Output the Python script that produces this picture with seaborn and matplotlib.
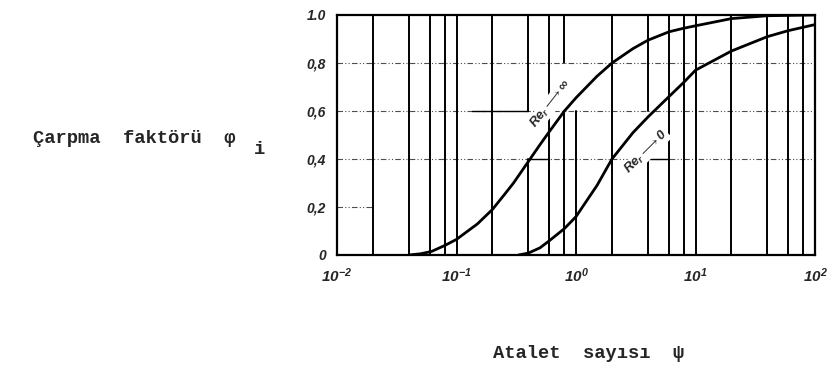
import numpy as np
import pandas as pd
import seaborn as sns
import matplotlib
matplotlib.use("Agg")
import matplotlib.pyplot as plt
from matplotlib.ticker import NullLocator

# ---- data ----
psi_inf = [0.04, 0.05, 0.062, 0.08, 0.1, 0.15, 0.2, 0.25, 0.3, 0.4, 0.5, 0.6, 0.8, 1.0,
           1.5, 2.0, 3.0, 4.0, 6.0, 8.0, 10.0, 20.0, 40.0, 100.0]
phi_inf = [0.0, 0.005, 0.015, 0.04, 0.065, 0.13, 0.19, 0.25, 0.30, 0.39, 0.46, 0.515, 0.60, 0.655,
           0.745, 0.80, 0.86, 0.895, 0.93, 0.945, 0.955, 0.985, 0.997, 1.0]
psi_zero = [0.33, 0.4, 0.5, 0.6, 0.8, 1.0, 1.5, 2.0, 3.0, 4.0, 6.0, 8.0, 10.0, 20.0, 40.0, 60.0, 100.0]
phi_zero = [0.0, 0.008, 0.03, 0.06, 0.11, 0.16, 0.29, 0.40, 0.51, 0.575, 0.66, 0.72, 0.77, 0.85, 0.91, 0.935, 0.96]

x_ticks = [1e-2, 1e-1, 1e0, 1e1, 1e2]
x_ticklabels = [r'$10^{-2}$', r'$10^{-1}$', r'$10^{0}$', r'$10^{1}$', r'$10^{2}$']
y_ticks = [0, 0.2, 0.4, 0.6, 0.8, 1.0]
y_ticklabels = ['0', '0,2', '0,4', '0,6', '0,8', '1.0']

sns.set_style("white")
plt.rcParams['font.family'] = ['DejaVu Sans']
plt.rcParams['mathtext.fontset'] = 'custom'
plt.rcParams['mathtext.rm'] = 'Liberation Sans:italic:bold'
plt.rcParams['mathtext.it'] = 'Liberation Sans:italic:bold'
plt.rcParams['mathtext.bf'] = 'Liberation Sans:italic:bold'

fig = plt.figure(figsize=(8.29, 3.69), dpi=100)
ax = fig.add_axes([337 / 829, 1 - 255 / 369, (815 - 337) / 829, 240 / 369])
ax.set_xscale('log')
ax.set_xlim(1e-2, 1e2)
ax.set_ylim(0, 1.0)

# ---- grid (scanned log paper look) ----
vlw = 1.4
full_v = []
for d in [1e-2, 1e-1, 1e0, 1e1]:
    for m in [2, 4, 6, 8]:
        full_v.append(m * d)
full_v += [1e-1, 1e1]
partial = {0.4: [(0.6, 1.0), (0.0, 0.4)], 0.6: [(0.0, 0.4)], 0.8: [(0.8, 1.0), (0.0, 0.6)],
           4.0: [(0.6, 1.0), (0.0, 0.4)]}
for v in full_v:
    if v in partial:
        continue
    ax.axvline(v, color='black', lw=vlw, zorder=1)
for v, segs in partial.items():
    for a, b in segs:
        ax.plot([v, v], [a, b], color='black', lw=vlw, zorder=1)
ax.axvline(1.0, ymin=0, ymax=0.6, color='black', lw=vlw, zorder=1)

dd = (0, (5, 2, 1, 2, 1, 2))
for y in [0.4, 0.6, 0.8]:
    ax.axhline(y, color='0.3', lw=0.8, ls=dd, zorder=0.5)
ax.plot([1e-2, 2e-2], [0.2, 0.2], color='0.3', lw=0.8, ls=dd, zorder=0.5)
# solid pieces of the scan
ax.plot([0.135, 0.4], [0.6, 0.6], color='black', lw=1.0, zorder=1)
ax.plot([0.4, 0.6], [0.4, 0.4], color='black', lw=1.0, zorder=1)
ax.plot([4.0, 6.0], [0.4, 0.4], color='black', lw=1.0, zorder=1)

# ---- curves ----
sns.lineplot(x=psi_inf, y=phi_inf, color='black', lw=2.0, ax=ax, zorder=3)
sns.lineplot(x=psi_zero, y=phi_zero, color='black', lw=2.0, ax=ax, zorder=3)

ax.text(0.62, 0.63, r'$Re_r \longrightarrow \infty$', rotation=52, fontsize=9.5,
        ha='center', va='center', rotation_mode='anchor', zorder=4,
        bbox=dict(facecolor='white', edgecolor='none', pad=0.3))
ax.text(3.9, 0.43, r'$Re_r \longrightarrow 0$', rotation=45, fontsize=9.5,
        ha='center', va='center', rotation_mode='anchor', zorder=4,
        bbox=dict(facecolor='white', edgecolor='none', pad=0.3))

# ---- axes ----
for s in ax.spines.values():
    s.set_visible(True)
    s.set_color('black')
    s.set_linewidth(1.6)
ax.set_xticks(x_ticks)
ax.set_xticklabels(x_ticklabels, fontsize=11)
ax.xaxis.set_minor_locator(NullLocator())
ax.set_yticks(y_ticks)
ax.set_yticklabels(y_ticklabels, fontsize=10, fontstyle='italic', fontweight='bold',
                   family='Liberation Sans')
ax.tick_params(length=0, pad=8)
ax.grid(False)
ax.set_xlabel('')
ax.set_ylabel('')

fig.text(33 / 829, 1 - 139 / 369, 'Çarpma  faktörü  φ', fontsize=13.5, fontweight='bold',
         family='Liberation Mono', ha='left', va='center')
fig.text(254 / 829, 1 - 150 / 369, 'i', fontsize=13.5, fontweight='bold',
         family='Liberation Mono', ha='left', va='center')
fig.text(493 / 829, 1 - 354 / 369, 'Atalet  sayısı  ψ', fontsize=13.5, fontweight='bold',
         family='Liberation Mono', ha='left', va='center')

fig.savefig('out.png', dpi=100, facecolor='white')
